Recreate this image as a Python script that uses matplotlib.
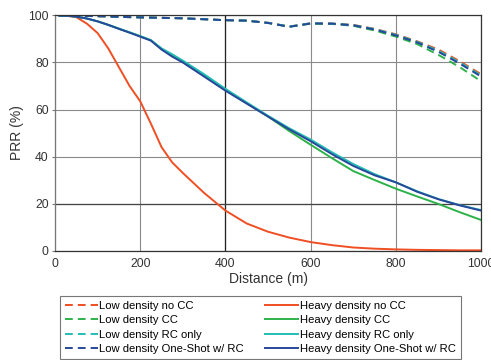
import matplotlib
matplotlib.use('Agg')
import matplotlib.pyplot as plt

plt.rcParams['font.family'] = ['Liberation Sans', 'DejaVu Sans']

# distance samples (m)
dist = [10, 30, 50, 75, 100, 125, 150, 175, 200, 225, 250, 275, 300, 350, 400,
        450, 500, 550, 600, 650, 700, 750, 800, 850, 900, 950, 1000]

# low density (dashed)
low_no_cc = [100, 100, 99.9, 99.8, 99.7, 99.6, 99.4, 99.3, 99.2, 99.1, 99, 98.9, 98.8, 98.4, 98,
             97.8, 96.9, 95.3, 96.7, 96.6, 96, 94.3, 92, 89, 85.5, 80.5, 75]
low_cc = [100, 100, 99.9, 99.8, 99.7, 99.6, 99.4, 99.3, 99.2, 99.1, 99, 98.9, 98.8, 98.4, 98,
          97.8, 96.8, 95.2, 96.5, 96.4, 95.6, 93.6, 91, 87.8, 83.2, 78, 72]
low_rc = [100, 100, 99.9, 99.8, 99.7, 99.6, 99.4, 99.3, 99.2, 99.1, 99, 98.9, 98.8, 98.4, 98,
          97.8, 96.9, 95.3, 96.7, 96.6, 95.9, 94.2, 91.8, 88.8, 85, 80, 74.5]
low_os = [100, 100, 99.9, 99.8, 99.7, 99.6, 99.4, 99.3, 99.2, 99.1, 99, 98.9, 98.8, 98.4, 98,
          97.8, 96.8, 95.2, 96.6, 96.5, 95.8, 94, 91.5, 88.5, 84.5, 79.5, 74]

# heavy density (solid)
heavy_no_cc = [100, 99.8, 99.3, 96.5, 92.5, 86, 78, 70, 63.5, 54, 44, 37.5, 33, 24.5, 17,
               11.5, 8, 5.5, 3.6, 2.3, 1.3, 0.8, 0.5, 0.3, 0.2, 0.1, 0.1]
heavy_cc = [100, 99.9, 99.5, 98.7, 97.5, 96, 94.4, 92.8, 91.2, 89.5, 85.8, 83, 80.3, 74.5, 68.3,
            62.7, 57, 50.8, 45, 39.3, 33.8, 30, 26.3, 23, 19.8, 16.3, 13]
heavy_rc = [100, 99.9, 99.5, 98.7, 97.5, 96, 94.4, 92.8, 91.2, 89.5, 86, 83.5, 80.8, 75, 68.8,
            63, 57.3, 52, 47.2, 41.8, 36.8, 32.5, 29, 25.2, 21.9, 19.3, 17.2]
heavy_os = [100, 99.9, 99.5, 98.7, 97.5, 96, 94.3, 92.7, 91, 89.3, 85.5, 82.5, 80, 74, 68,
            62.5, 57, 51.5, 46.5, 41, 36, 32, 29, 25, 21.8, 19.2, 17]

c_red = '#F04E23'
c_green = '#2DB24A'
c_cyan = '#22BDB5'
c_blue = '#27479A'

fig = plt.figure(figsize=(4.91, 3.6), dpi=100)
ax = fig.add_axes([0.112, 0.304, 0.868, 0.653])

lw = 1.4
dash = (0, (4, 2.6))
ax.plot(dist, low_no_cc, color=c_red, lw=lw, linestyle=dash, label='Low density no CC')
ax.plot(dist, heavy_no_cc, color=c_red, lw=lw, label='Heavy density no CC')
ax.plot(dist, low_cc, color=c_green, lw=lw, linestyle=dash, label='Low density CC')
ax.plot(dist, heavy_cc, color=c_green, lw=lw, label='Heavy density CC')
ax.plot(dist, low_rc, color=c_cyan, lw=lw, linestyle=dash, label='Low density RC only')
ax.plot(dist, heavy_rc, color=c_cyan, lw=lw, label='Heavy density RC only')
ax.plot(dist, low_os, color=c_blue, lw=lw, linestyle=dash, label='Low density One-Shot w/ RC')
ax.plot(dist, heavy_os, color=c_blue, lw=lw, label='Heavy density One-Shot w/ RC')

ax.set_xlim(0, 1000)
ax.set_ylim(0, 100)
ax.set_xticks([0, 200, 400, 600, 800, 1000])
ax.set_yticks([0, 20, 40, 60, 80, 100])
ax.grid(True, color='#8a8a8a', lw=0.8)
ax.axvline(400, color='#222222', lw=0.9, zorder=1)
ax.axhline(20, color='#444444', lw=0.9, zorder=1)
ax.set_axisbelow(True)
for s in ax.spines.values():
    s.set_color('#333333')
    s.set_linewidth(0.9)
ax.spines['left'].set_color('#777777')
ax.tick_params(axis='x', length=0, labelsize=8.8, pad=5, colors='#333333')
ax.tick_params(axis='y', length=2.5, width=0.8, labelsize=8.8, pad=2, colors='#333333')
ax.tick_params(axis='y', color='#777777')
ax.set_xlabel('Distance (m)', fontsize=10, labelpad=2, color='#333333')
ax.set_ylabel('PRR (%)', fontsize=10, labelpad=3, color='#333333')

# legend order: low densities in left column, heavy in right
h, l = ax.get_legend_handles_labels()
order = [0, 2, 4, 6, 1, 3, 5, 7]
leg = fig.legend([h[i] for i in order], [l[i] for i in order], ncol=2,
                 loc='upper left', bbox_to_anchor=(0.122, 1 - 296 / 360),
                 fontsize=8.1, frameon=True, fancybox=False,
                 handlelength=2.9, handletextpad=0.15, labelspacing=0.38,
                 columnspacing=1.9, borderaxespad=0, borderpad=0.45)
leg.get_frame().set_edgecolor('#555555')
leg.get_frame().set_linewidth(0.8)

fig.savefig('out.png', dpi=100)
